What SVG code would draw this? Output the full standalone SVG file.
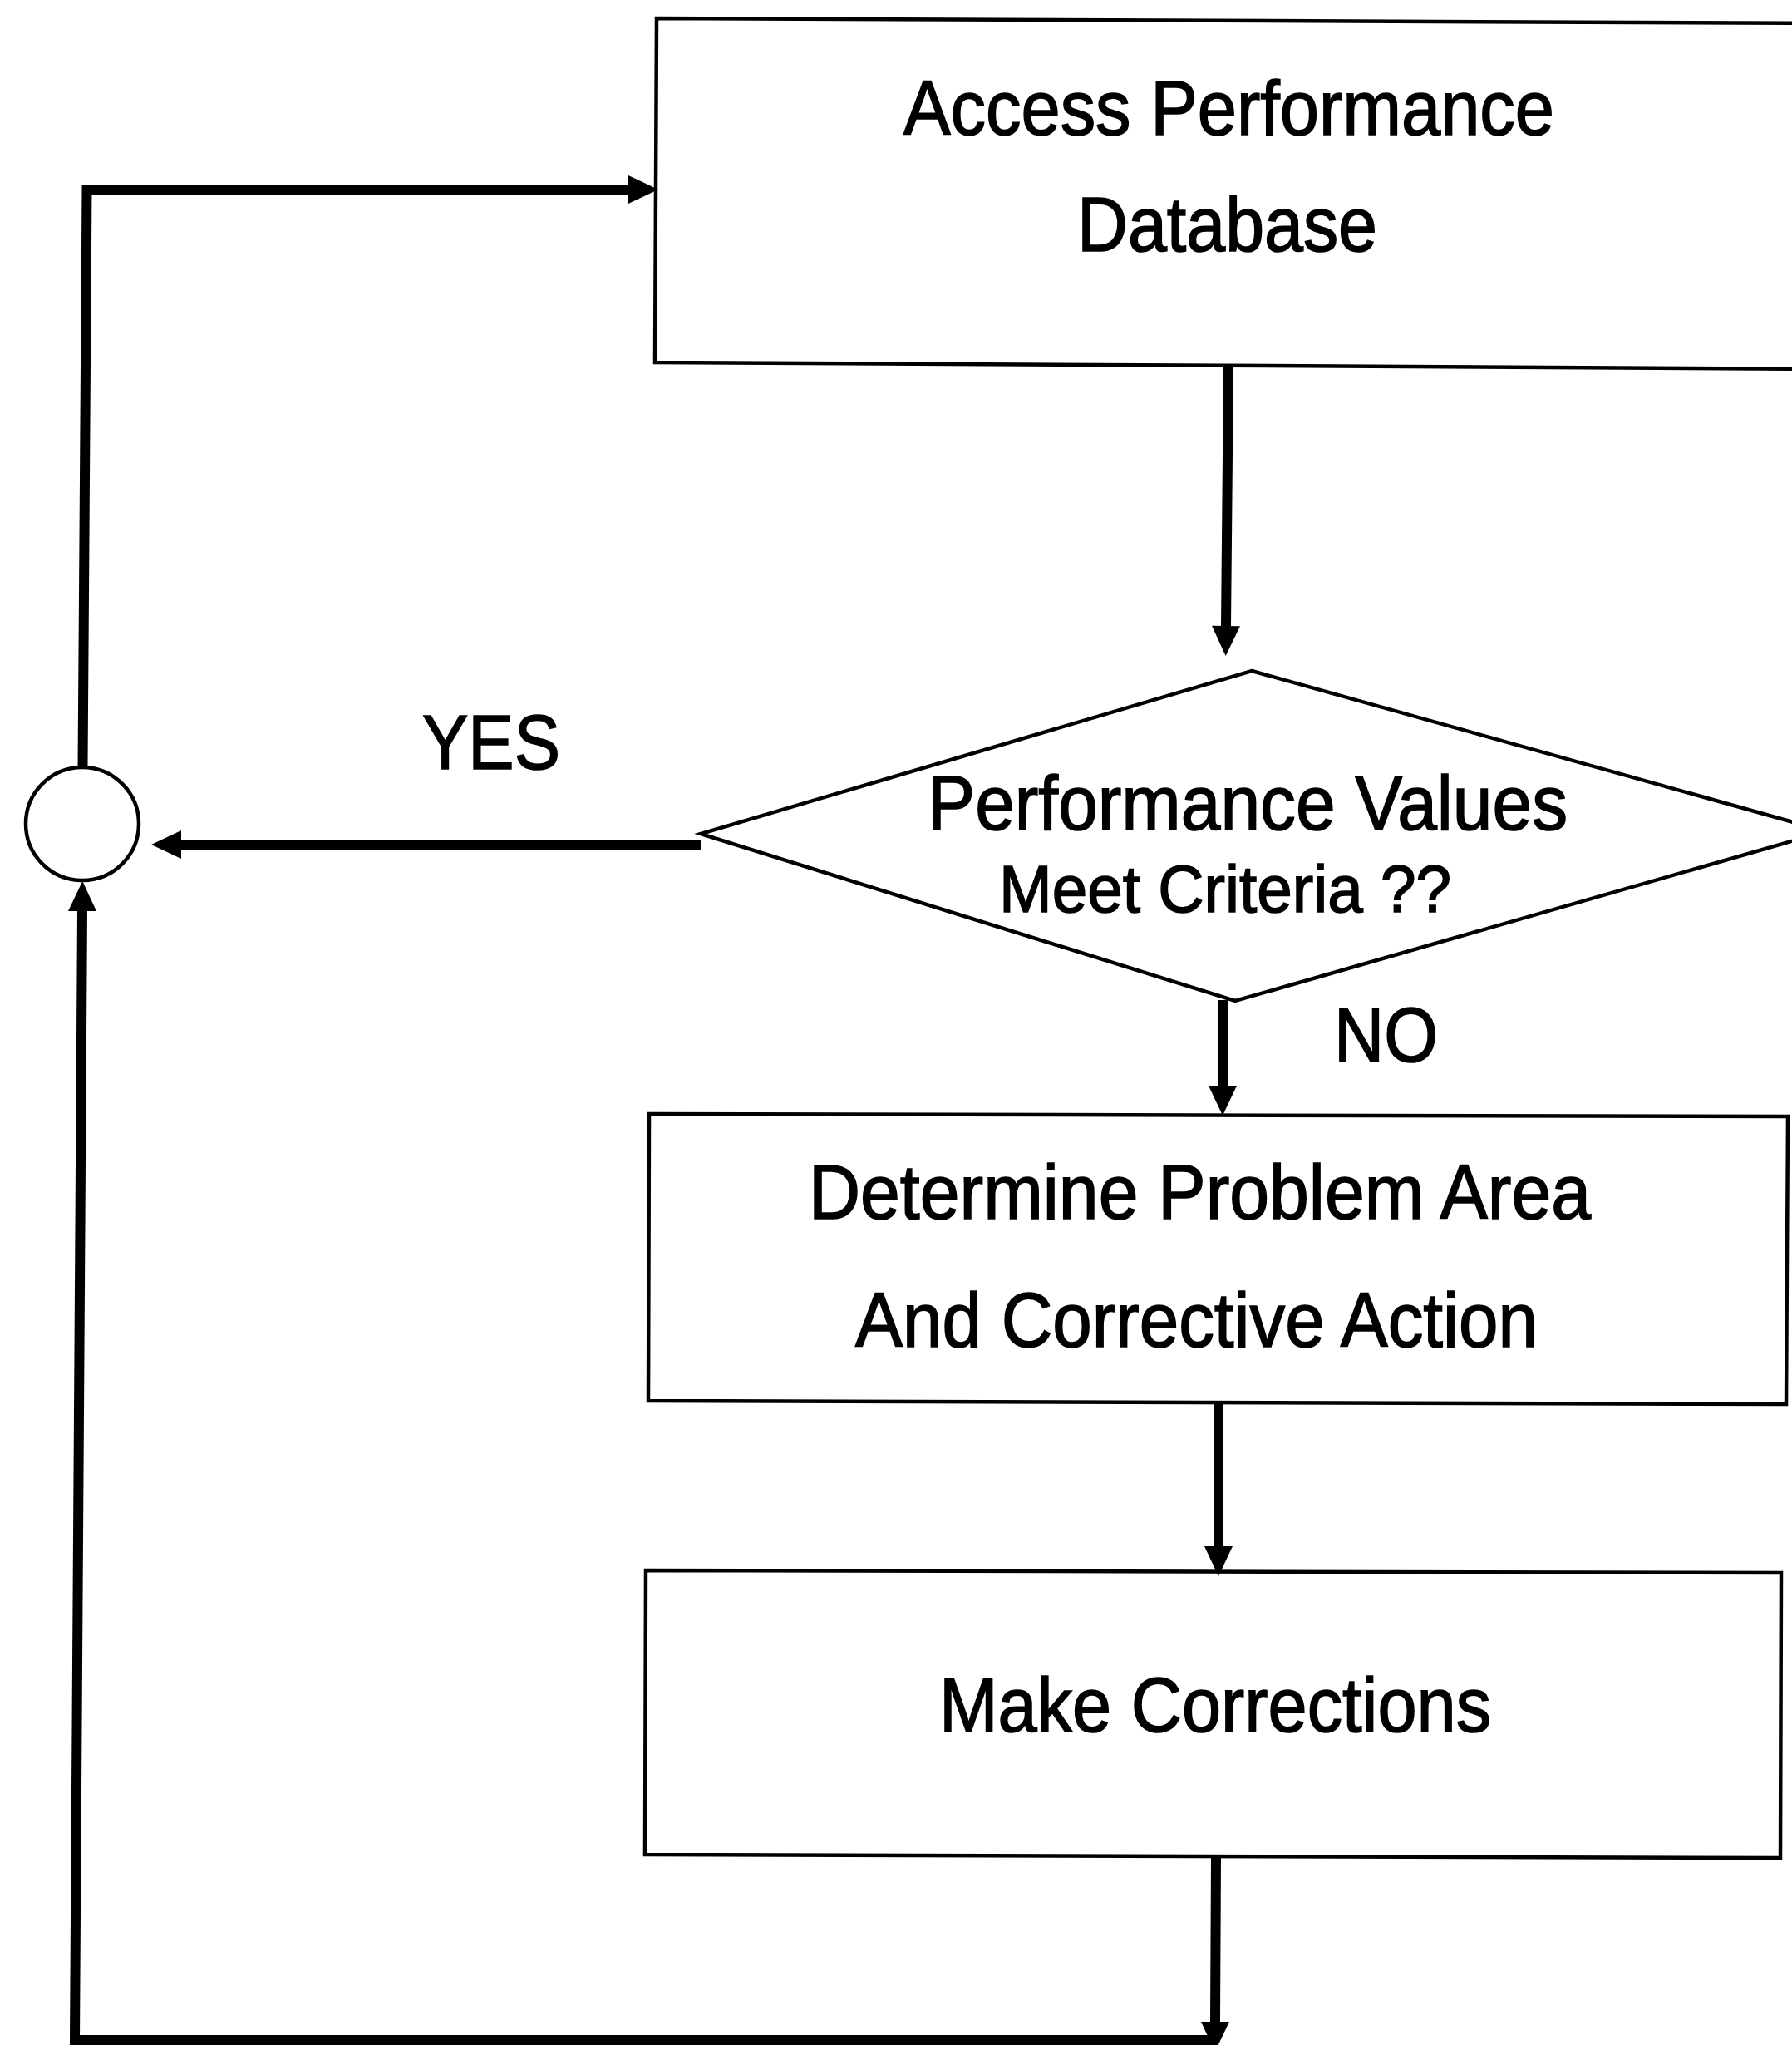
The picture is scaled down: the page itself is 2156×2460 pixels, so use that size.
<svg xmlns="http://www.w3.org/2000/svg" width="2156" height="2460" viewBox="0 0 2156 2460">
  <defs>
    <!-- solid arrowhead; starts at the line end and extends 35px beyond it -->
    <marker id="arrow" markerUnits="userSpaceOnUse" markerWidth="36" markerHeight="36" refX="0" refY="17" orient="auto" overflow="visible">
      <path d="M0,0 L36,17 L0,34 Z" fill="#000"/>
    </marker>
    <style>
      .box { fill: #fff; stroke: #000; stroke-width: 4.5; stroke-linejoin: miter; }
      .conn { fill: none; stroke: #000; stroke-width: 12; stroke-linejoin: miter; stroke-linecap: butt; }
      .label { font-family: "Liberation Sans", Arial, Helvetica, sans-serif; fill: #000; stroke: #000; stroke-width: 1.6; }
      .big { font-size: 92px; }
      .mid { font-size: 80px; }
    </style>
  </defs>

  <rect x="0" y="0" width="2156" height="2460" fill="#fff"/>

  <!-- process: access database -->
  <g id="node-access">
    <polygon class="box" points="790,22 2220,28 2220,444 788,436"/>
    <text class="label big" x="1087" y="162" textLength="783" lengthAdjust="spacingAndGlyphs">Access Performance</text>
    <text class="label big" x="1296" y="302" textLength="361" lengthAdjust="spacingAndGlyphs">Database</text>
  </g>

  <!-- decision -->
  <g id="node-decision">
    <polygon class="box" points="1506,807 2197,1000 1486,1204 843,1003"/>
    <text class="label big" x="1116" y="998" textLength="770" lengthAdjust="spacingAndGlyphs">Performance Values</text>
    <text class="label mid" x="1202" y="1097" textLength="544" lengthAdjust="spacingAndGlyphs">Meet Criteria ??</text>
  </g>

  <!-- process: determine problem -->
  <g id="node-determine">
    <polygon class="box" points="781,1340 2151,1343 2149,1689 780,1685"/>
    <text class="label big" x="973" y="1466" textLength="941" lengthAdjust="spacingAndGlyphs">Determine Problem Area</text>
    <text class="label big" x="1029" y="1620" textLength="821" lengthAdjust="spacingAndGlyphs">And Corrective Action</text>
  </g>

  <!-- process: make corrections -->
  <g id="node-corrections">
    <polygon class="box" points="777,1889 2143,1892 2142,2235 776,2231"/>
    <text class="label big" x="1130" y="2083" textLength="664" lengthAdjust="spacingAndGlyphs">Make Corrections</text>
  </g>

  <!-- junction -->
  <g id="node-junction">
    <circle class="box" cx="99" cy="991" r="68"/>
  </g>

  <!-- connectors -->
  <g id="connectors">
    <!-- database -> decision -->
    <path class="conn" d="M1478,442 L1475,753" marker-end="url(#arrow)"/>
    <!-- decision NO -> determine -->
    <path class="conn" d="M1471,1203 L1471,1306" marker-end="url(#arrow)"/>
    <!-- determine -> corrections -->
    <path class="conn" d="M1466,1689 L1466,1860" marker-end="url(#arrow)"/>
    <!-- corrections -> bottom return -->
    <path class="conn" d="M1463,2234 L1462,2432" marker-end="url(#arrow)"/>
    <!-- return line along bottom and up the left side into junction -->
    <path class="conn" d="M1462,2454 L90,2454 L99,1096" marker-end="url(#arrow)"/>
    <!-- decision YES -> junction -->
    <path class="conn" d="M843,1016 L218,1016" marker-end="url(#arrow)"/>
    <!-- junction -> access database -->
    <path class="conn" d="M99.5,923 L104.5,228 L756,228" marker-end="url(#arrow)"/>
  </g>

  <!-- branch labels -->
  <g id="labels">
    <text class="label big" x="508" y="925" font-size="93" textLength="166" lengthAdjust="spacingAndGlyphs">YES</text>
    <text class="label big" x="1605" y="1277" textLength="125" lengthAdjust="spacingAndGlyphs">NO</text>
  </g>
</svg>
